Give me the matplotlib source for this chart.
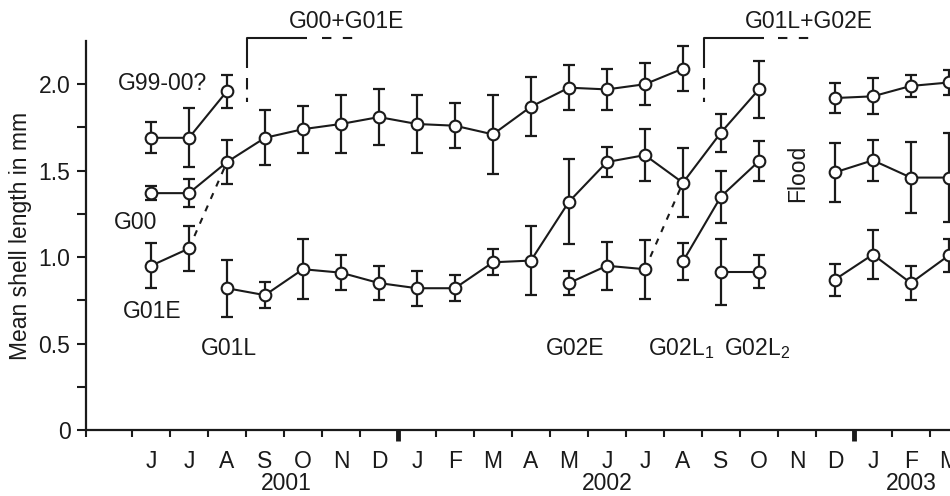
import matplotlib
matplotlib.use("Agg")
import matplotlib.pyplot as plt
import matplotlib.transforms as mtransforms

plt.rcParams['font.family'] = ['Liberation Sans', 'DejaVu Sans']
plt.rcParams['mathtext.fontset'] = 'custom'
plt.rcParams['mathtext.rm'] = 'Liberation Sans'
plt.rcParams['mathtext.it'] = 'Liberation Sans'

# ---------------- data ----------------
month_labels = ['J', 'J', 'A', 'S', 'O', 'N', 'D', 'J', 'F', 'M', 'A', 'M',
                'J', 'J', 'A', 'S', 'O', 'N', 'D', 'J', 'F', 'M']
year_labels = ['2001', '2002', '2003']

# G99-00?
g99_x = [0, 1, 2]
g99_y = [1.69, 1.69, 1.96]
g99_e = [0.09, 0.17, 0.095]

# G00 -> G00+G01E
g00_x = [0, 1, 2, 3, 4, 5, 6, 7, 8, 9, 10, 11, 12, 13, 14]
g00_y = [1.37, 1.37, 1.55, 1.69, 1.74, 1.77, 1.81, 1.77, 1.76, 1.71, 1.87,
         1.98, 1.97, 2.00, 2.09]
g00_e = [0.04, 0.08, 0.125, 0.16, 0.135, 0.17, 0.16, 0.17, 0.13, 0.23, 0.17,
         0.13, 0.12, 0.12, 0.13]

# G01E
g01e_x = [0, 1]
g01e_y = [0.95, 1.05]
g01e_e = [0.13, 0.13]

# G01L -> G01L+G02E
g01l_x = [2, 3, 4, 5, 6, 7, 8, 9, 10, 11, 12, 13, 14, 15, 16]
g01l_y = [0.82, 0.78, 0.93, 0.91, 0.85, 0.82, 0.82, 0.97, 0.98, 1.32, 1.55,
          1.59, 1.43, 1.72, 1.97]
g01l_e = [0.165, 0.075, 0.175, 0.10, 0.10, 0.10, 0.075, 0.075, 0.20, 0.245,
          0.085, 0.15, 0.20, 0.11, 0.165]

# G02E
g02e_x = [11, 12, 13]
g02e_y = [0.85, 0.95, 0.93]
g02e_e = [0.068, 0.14, 0.17]

# G02L1
g02l1_x = [14, 15, 16]
g02l1_y = [0.975, 1.35, 1.555]
g02l1_e = [0.105, 0.15, 0.115]

# G02L2
g02l2_x = [15, 16]
g02l2_y = [0.915, 0.915]
g02l2_e = [0.19, 0.095]

# after flood
post_x = [18, 19, 20, 21]
post_top_y = [1.92, 1.93, 1.99, 2.01]
post_top_e = [0.085, 0.105, 0.062, 0.072]
post_mid_y = [1.49, 1.56, 1.46, 1.46]
post_mid_e = [0.17, 0.12, 0.205, 0.255]
post_low_y = [0.87, 1.015, 0.85, 1.01]
post_low_e = [0.093, 0.14, 0.10, 0.097]

# ---------------- figure ----------------
C = '#1a1a1a'
FS = 16.5
fig = plt.figure(figsize=(9.5, 4.96), dpi=100)
ax = fig.add_axes([86 / 950, 66 / 496, 1 - 86 / 950, 389 / 496])

series = [
    (g99_x, g99_y, g99_e),
    (g00_x, g00_y, g00_e),
    (g01e_x, g01e_y, g01e_e),
    (g01l_x, g01l_y, g01l_e),
    (g02e_x, g02e_y, g02e_e),
    (g02l1_x, g02l1_y, g02l1_e),
    (g02l2_x, g02l2_y, g02l2_e),
    (post_x, post_top_y, post_top_e),
    (post_x, post_mid_y, post_mid_e),
    (post_x, post_low_y, post_low_e),
]

for xs, ys, es in series:
    ax.errorbar(xs, ys, yerr=es, fmt='none', ecolor=C, elinewidth=1.6,
                capsize=4, capthick=1.6, zorder=2)
    ax.plot(xs, ys, '-', color=C, lw=1.5, marker='o', ms=8.4, mfc='white',
            mec=C, mew=1.5, zorder=4)

# dashed connectors (merging cohorts)
dash = (3, 3.5)
ax.plot([g01e_x[-1], g00_x[2]], [g01e_y[-1], g00_y[2]], color=C, lw=1.5,
        dashes=dash, zorder=3)
ax.plot([g02e_x[-1], g01l_x[12]], [g02e_y[-1], g01l_y[12]], color=C, lw=1.5,
        dashes=dash, zorder=3)

# brackets above
for bx, hx_end, dx0, dx1, label, tx in [
        (2.52, 4.10, 4.49, 5.43, 'G00+G01E', 5.15),
        (14.56, 16.14, 16.51, 17.47, 'G01L+G02E', 17.32)]:
    ax.plot([bx, bx, hx_end], [2.093, 2.27, 2.27], color=C, lw=1.5,
            clip_on=False, solid_capstyle='butt')
    ax.plot([dx0, dx1], [2.27, 2.27], color=C, lw=1.5, dashes=(4.5, 5.5),
            clip_on=False)
    ax.plot([bx, bx], [2.037, 1.90], color=C, lw=1.5, dashes=(5.5, 4),
            clip_on=False)
    ax.text(tx, 2.365, label, ha='center', va='center', fontsize=FS, color=C,
            clip_on=False)

# cohort labels
ax.text(0.30, 2.002, 'G99-00?', ha='center', va='center', fontsize=FS, color=C)
ax.text(-0.41, 1.202, 'G00', ha='center', va='center', fontsize=FS, color=C)
ax.text(0.02, 0.685, 'G01E', ha='center', va='center', fontsize=FS, color=C)
ax.text(2.06, 0.473, 'G01L', ha='center', va='center', fontsize=FS, color=C)
ax.text(11.16, 0.473, 'G02E', ha='center', va='center', fontsize=FS, color=C)
ax.text(13.09, 0.473, 'G02L$_1$', ha='left', va='center', fontsize=FS, color=C)
ax.text(15.08, 0.473, 'G02L$_2$', ha='left', va='center', fontsize=FS, color=C)
ax.text(17.03, 1.486, 'Flood', ha='center', va='center', rotation=90,
        fontsize=FS, color=C)

# axes styling
ax.set_xlim(-1.71, 21.03)
ax.set_ylim(0, 2.25)
for s in ['top', 'right']:
    ax.spines[s].set_visible(False)
for s in ['left', 'bottom']:
    ax.spines[s].set_linewidth(1.6)
    ax.spines[s].set_color(C)

ax.set_yticks([0, 0.5, 1.0, 1.5, 2.0])
ax.set_yticklabels(['0', '0.5', '1.0', '1.5', '2.0'])
ax.set_yticks([0.25, 0.75, 1.25, 1.75], minor=True)
ax.tick_params(axis='y', which='both', direction='out', length=6.2, width=1.5,
               color=C, labelsize=FS, labelcolor=C, pad=5)

ax.set_xticks(range(len(month_labels)))
ax.set_xticklabels(month_labels)
ax.set_xticks([i - 0.5 for i in range(len(month_labels))] + [-1.71], minor=True)
ax.tick_params(axis='x', which='major', length=0, labelsize=FS, labelcolor=C,
               pad=14.5)
ax.tick_params(axis='x', which='minor', direction='out', length=5, width=1.5,
               color=C)

trans = mtransforms.blended_transform_factory(ax.transData, ax.transAxes)
for yb in [6.5, 18.5]:
    ax.plot([yb, yb], [0, -0.028], color=C, lw=3.5, transform=trans,
            clip_on=False, solid_capstyle='butt')
for lab, xp in zip(year_labels, [3.55, 12.0, 20.0]):
    ax.text(xp, -0.138, lab, transform=trans, ha='center', va='center',
            fontsize=FS, color=C, clip_on=False)

ax.set_ylabel('Mean shell length in mm', fontsize=FS, color=C)
ax.yaxis.set_label_coords(-0.063, 0.5)

fig.savefig('out.png', dpi=100)
